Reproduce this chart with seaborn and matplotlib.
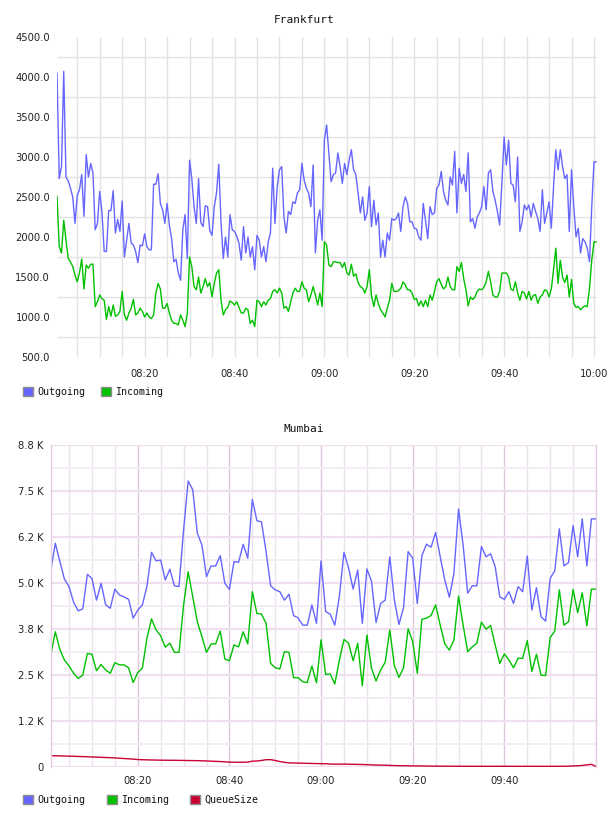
import numpy as np
import pandas as pd
import matplotlib
matplotlib.use("Agg")
import matplotlib.pyplot as plt
import matplotlib.dates as mdates
from matplotlib.patches import Patch
from matplotlib.ticker import FixedLocator, FuncFormatter, MultipleLocator
import seaborn as sns

# ---------------- data ----------------
series_names = ["Outgoing", "Incoming", "QueueSize"]
colors = {"Outgoing": "#6666ff", "Incoming": "#00c000", "QueueSize": "#cc0033"}

# Frankfurt: samples every 30 s starting 08:00:30
fra_start = "2024-01-01 08:00:30"
fra_step = "30s"
fra_outgoing = [
    4050, 2730, 2880, 4070, 2750, 2700, 2610, 2500, 2170, 2520,
    2590, 2780, 2260, 3030, 2750, 2920, 2800, 2090, 2170, 2570,
    2320, 1820, 1820, 2330, 2330, 2580, 2050, 2220, 2070, 2450,
    1750, 1960, 2170, 1930, 1900, 1820, 1680, 1900, 1890, 2040,
    1880, 1840, 1840, 2660, 2660, 2790, 2420, 2340, 2170, 2420,
    2150, 1980, 1690, 1720, 1550, 1460, 2090, 2280, 1730, 2960,
    2730, 2380, 2170, 2730, 2180, 2130, 2390, 2380, 2080, 2020,
    2380, 2550, 2910, 2180, 1730, 2000, 1750, 2280, 2090, 2070,
    2010, 1920, 1710, 2130, 1800, 2000, 1750, 1880, 1590, 2020,
    1960, 1750, 1880, 1690, 1940, 2050, 2860, 2170, 2630, 2840,
    2880, 2250, 2050, 2320, 2280, 2440, 2420, 2550, 2590, 2920,
    2710, 2610, 2550, 2380, 2900, 1800, 2210, 2340, 1960, 3210,
    3400, 3050, 2690, 2780, 2800, 3050, 2880, 2670, 2920, 2780,
    2960, 3090, 2840, 2780, 2550, 2300, 2500, 2210, 2300, 2630,
    2130, 2460, 2150, 2300, 1750, 1960, 1750, 2050, 1960, 2230,
    2210, 2230, 2300, 2070, 2380, 2500, 2420, 2190, 2190, 2110,
    2100, 2000, 1960, 2420, 2210, 1980, 2380, 2280, 2300, 2610,
    2650, 2820, 2570, 2460, 2400, 2750, 2650, 3070, 2300, 2860,
    2670, 2780, 2570, 3050, 2190, 2230, 2110, 2250, 2300, 2380,
    2630, 2340, 2800, 2840, 2570, 2460, 2320, 2150, 2670, 3250,
    2900, 3210, 2670, 2650, 2440, 3000, 2070, 2190, 2400, 2340,
    2400, 2250, 2420, 2320, 2230, 2070, 2590, 2170, 2300, 2440,
    2110, 2630, 3090, 2840, 3090, 2880, 2730, 2780, 2070, 2840,
    2380, 2000, 2110, 1800, 1980, 1940, 1860, 1690, 2380, 2940, 2940,
]
fra_incoming = [
    2510, 1880, 1800, 2210, 1960, 1730, 1690, 1630, 1525, 1440,
    1550, 1725, 1350, 1650, 1610, 1660, 1660, 1130, 1190, 1275,
    1230, 1210, 970, 1130, 1010, 1150, 1010, 1025, 1070, 1320,
    1025, 960, 1050, 1110, 1220, 1025, 1050, 1110, 1070, 1000,
    1050, 1000, 980, 1025, 1300, 1420, 1350, 1110, 1110, 1170,
    1050, 960, 920, 920, 900, 1025, 960, 880, 1050, 1750,
    1630, 1380, 1340, 1500, 1300, 1380, 1480, 1380, 1430, 1250,
    1420, 1550, 1590, 1210, 1025, 1090, 1120, 1200, 1180, 1150,
    1190, 1120, 1050, 1050, 1110, 1090, 920, 960, 880, 1210,
    1190, 1130, 1190, 1150, 1210, 1230, 1320, 1340, 1300, 1360,
    1300, 1110, 1130, 1070, 1190, 1300, 1360, 1320, 1320, 1440,
    1360, 1340, 1190, 1275, 1380, 1275, 1150, 1300, 1130, 1940,
    1900, 1650, 1630, 1690, 1690, 1680, 1680, 1620, 1680, 1550,
    1525, 1660, 1510, 1540, 1430, 1380, 1360, 1300, 1380, 1590,
    1260, 1130, 1275, 1170, 1090, 1050, 1000, 1110, 1210, 1420,
    1320, 1320, 1330, 1360, 1440, 1400, 1340, 1340, 1300, 1220,
    1230, 1140, 1200, 1130, 1210, 1130, 1275, 1210, 1320, 1440,
    1480, 1410, 1350, 1380, 1500, 1380, 1340, 1340, 1630, 1570,
    1680, 1480, 1340, 1140, 1250, 1220, 1250, 1320, 1350, 1340,
    1370, 1440, 1570, 1440, 1275, 1250, 1250, 1320, 1550, 1550,
    1550, 1500, 1350, 1330, 1440, 1300, 1210, 1320, 1300, 1225,
    1320, 1210, 1270, 1280, 1170, 1250, 1275, 1340, 1330, 1250,
    1350, 1590, 1860, 1420, 1710, 1500, 1430, 1525, 1250, 1470,
    1170, 1120, 1130, 1090, 1120, 1140, 1130, 1360, 1710, 1940, 1940,
]
fra_yticks = [500, 1000, 1500, 2000, 2500, 3000, 3500, 4000, 4500]
fra_xticks = ["08:20", "08:40", "09:00", "09:20", "09:40", "10:00"]

# Mumbai: samples every minute starting 08:01
mum_start = "2024-01-01 08:01:00"
mum_step = "60s"
mum_outgoing = [
    5320, 6080, 5580, 5100, 4900, 4470, 4240, 4290, 5230, 5120,
    4530, 4990, 4400, 4310, 4830, 4670, 4620, 4550, 4040, 4260,
    4400, 4900, 5830, 5600, 5620, 5080, 5370, 4920, 4900, 6440,
    7770, 7530, 6350, 6030, 5170, 5460, 5460, 5740, 4990, 4820,
    5580, 5560, 6050, 5670, 7270, 6690, 6660, 5850, 4920, 4810,
    4760, 4530, 4690, 4110, 4050, 3850, 3850, 4400, 3900, 5600,
    4220, 4150, 3850, 4640, 5830, 5410, 4830, 5350, 3900, 5380,
    5050, 3920, 4440, 4530, 5710, 4530, 3870, 4330, 5850, 5670,
    4440, 5740, 6050, 5970, 6370, 5710, 5080, 4610, 5260, 7010,
    6030, 4720, 4920, 4920, 5990, 5710, 5790, 5440, 4620, 4550,
    4760, 4440, 4900, 4760, 5730, 4260, 4870, 4080, 3960, 5120,
    5330, 6470, 5460, 5550, 6560, 5710, 6740, 5460, 6740, 6740,
]
mum_incoming = [
    3020, 3670, 3190, 2900, 2740, 2540, 2400, 2490, 3080, 3060,
    2610, 2780, 2630, 2540, 2830, 2770, 2770, 2690, 2290, 2560,
    2680, 3490, 4020, 3720, 3560, 3250, 3360, 3110, 3110, 4400,
    5300, 4620, 3940, 3540, 3110, 3340, 3340, 3690, 2930, 2880,
    3310, 3260, 3670, 3340, 4760, 4170, 4150, 3900, 2810, 2690,
    2660, 3130, 3110, 2420, 2420, 2310, 2290, 2740, 2280, 3450,
    2510, 2520, 2250, 2900, 3460, 3360, 2880, 3360, 2200, 3580,
    2680, 2330, 2630, 2840, 3720, 2750, 2430, 2690, 3750, 3400,
    2540, 4010, 4040, 4110, 4400, 3850, 3340, 3170, 3450, 4640,
    3850, 3130, 3260, 3360, 3930, 3740, 3840, 3310, 2810, 3070,
    2900, 2690, 2950, 2950, 3430, 2590, 3060, 2490, 2480, 3510,
    3690, 4810, 3850, 3940, 4820, 4190, 4730, 3830, 4830, 4830,
]
mum_queue = [
    300, 297, 294, 290, 287, 283, 279, 275, 270, 265,
    260, 255, 250, 245, 238, 230, 222, 215, 205, 195,
    190, 186, 183, 180, 178, 176, 175, 174, 172, 170,
    168, 166, 164, 160, 156, 150, 145, 140, 132, 125,
    122, 120, 122, 125, 150, 155, 170, 190, 192, 170,
    140, 120, 105, 100, 98, 95, 90, 88, 85, 82,
    80, 72, 68, 70, 70, 68, 65, 62, 60, 55,
    50, 45, 42, 40, 35, 30, 28, 27, 25, 22,
    22, 20, 18, 16, 15, 14, 14, 13, 12, 12,
    12, 12, 11, 11, 11, 11, 11, 11, 12, 12,
    11, 10, 10, 10, 10, 10, 10, 10, 10, 10,
    10, 11, 12, 14, 20, 25, 35, 50, 65, 5,
]
mum_yticks = [0, 1250, 2500, 3750, 5000, 6250, 7500, 8750]
mum_xticks = ["08:20", "08:40", "09:00", "09:20", "09:40"]

# ---------------- frames ----------------
def long_frame(start, step, cols):
    n = len(next(iter(cols.values())))
    t = pd.date_range(start, periods=n, freq=step)
    parts = [pd.DataFrame({"time": t, "value": v, "series": k}) for k, v in cols.items()]
    return pd.concat(parts, ignore_index=True)

fra_df = long_frame(fra_start, fra_step, {"Outgoing": fra_outgoing, "Incoming": fra_incoming})
mum_df = long_frame(mum_start, mum_step, {"Outgoing": mum_outgoing, "Incoming": mum_incoming,
                                          "QueueSize": mum_queue})

# ---------------- style ----------------
sns.set_theme(style="white")
plt.rcParams["font.family"] = ["DejaVu Sans"]
MONO = ["DejaVu Sans Mono"]

fig = plt.figure(figsize=(6.08, 8.16), dpi=100)
W, H = 608, 816

def px_axes(left, top, right, bottom):
    return fig.add_axes([left / W, 1 - bottom / H, (right - left) / W, (bottom - top) / H])

ax1 = px_axes(57, 37, 597, 357)
ax2 = px_axes(50.7, 445, 596, 766.7)

def tstamp(hm):
    return mdates.date2num(pd.Timestamp("2024-01-01 " + hm))

TICK_SIZE = 7.2

# ---- Frankfurt ----
sns.lineplot(data=fra_df, x="time", y="value", hue="series", hue_order=["Outgoing", "Incoming"],
             palette=colors, linewidth=1.0, legend=False, estimator=None, ax=ax1)
ax1.set_xlim(fra_df["time"].min(), fra_df["time"].max() + pd.Timedelta("10s"))
ax1.set_ylim(fra_yticks[0], fra_yticks[-1])
ax1.yaxis.set_major_locator(FixedLocator(fra_yticks))
ax1.yaxis.set_major_formatter(FuncFormatter(lambda v, p: "%.1f" % v))
ax1.yaxis.set_minor_locator(FixedLocator([v + 250 for v in fra_yticks[:-1]]))
ax1.xaxis.set_major_locator(FixedLocator([tstamp(s) for s in fra_xticks]))
ax1.xaxis.set_minor_locator(mdates.MinuteLocator(byminute=range(0, 60, 5)))
ax1.xaxis.set_major_formatter(mdates.DateFormatter("%H:%M"))
ax1.grid(False)
ax1.grid(True, which="minor", axis="y", color="#e2e2e2", linewidth=1.0)
ax1.grid(True, which="both", axis="x", color="#e2e2e2", linewidth=1.0)
for s in ax1.spines.values():
    s.set_visible(False)
ax1.tick_params(axis="both", which="both", length=0)
ax1.tick_params(axis="y", pad=5, labelsize=TICK_SIZE, labelcolor="#222222")
ax1.tick_params(axis="x", pad=8.5, labelsize=TICK_SIZE, labelcolor="#222222")
ax1.set_xlabel("")
ax1.set_ylabel("")
ax1.set_axisbelow(True)

# ---- Mumbai ----
sns.lineplot(data=mum_df, x="time", y="value", hue="series", hue_order=series_names,
             palette=colors, linewidth=1.0, legend=False, estimator=None, ax=ax2)
ax2.set_xlim(mum_df["time"].min(), mum_df["time"].max())
ax2.set_ylim(mum_yticks[0], mum_yticks[-1])
ax2.yaxis.set_major_locator(FixedLocator(mum_yticks))
ax2.yaxis.set_major_formatter(FuncFormatter(lambda v, p: "0" if v == 0 else "%.1f K" % (v / 1000)))
ax2.yaxis.set_minor_locator(FixedLocator([v + 625 for v in mum_yticks[:-1]]))
ax2.xaxis.set_major_locator(FixedLocator([tstamp(s) for s in mum_xticks]))
ax2.xaxis.set_minor_locator(mdates.MinuteLocator(byminute=range(0, 60, 5)))
ax2.xaxis.set_major_formatter(mdates.DateFormatter("%H:%M"))
ax2.grid(False)
ax2.grid(True, which="major", axis="y", color="#efdfef", linewidth=1.6)
ax2.grid(True, which="minor", axis="y", color="#f4ecf4", linewidth=1.4)
ax2.grid(True, which="major", axis="x", color="#dcc8dc", linewidth=1.0)
ax2.grid(True, which="minor", axis="x", color="#ebe2eb", linewidth=1.0)
for k, s in ax2.spines.items():
    if k in ("left", "right"):
        s.set_visible(True)
        s.set_color("#e2cce2")
        s.set_linewidth(1.0)
    else:
        s.set_visible(False)
ax2.tick_params(axis="both", which="both", length=0)
ax2.tick_params(axis="y", pad=5, labelsize=TICK_SIZE, labelcolor="#222222")
ax2.tick_params(axis="x", pad=7, labelsize=TICK_SIZE, labelcolor="#222222")
ax2.set_xlabel("")
ax2.set_ylabel("")
ax2.set_axisbelow(True)

# ---- titles ----
fig.text(304 / W, 1 - 20 / H, "Frankfurt", ha="center", va="center", fontsize=8, family=MONO, color="#111111")
fig.text(304 / W, 1 - 429 / H, "Mumbai", ha="center", va="center", fontsize=8, family=MONO, color="#111111")

# ---- legends ----
def make_legend(names, y_px, colspacing):
    handles = [Patch(facecolor=colors[n], edgecolor="#8c8c8c", linewidth=1.0, label=n) for n in names]
    fig.legend(handles=handles, loc="center left", bbox_to_anchor=(23 / W, 1 - y_px / H),
               ncol=len(names), frameon=False, prop={"family": MONO, "size": 7.2},
               handlelength=1.0, handleheight=1.0, handletextpad=0.45,
               columnspacing=colspacing, borderpad=0, borderaxespad=0, labelcolor="#111111")

make_legend(["Outgoing", "Incoming"], 392, 1.5)
make_legend(series_names, 800, 2.1)

fig.savefig("out.png", dpi=100, facecolor="white")
